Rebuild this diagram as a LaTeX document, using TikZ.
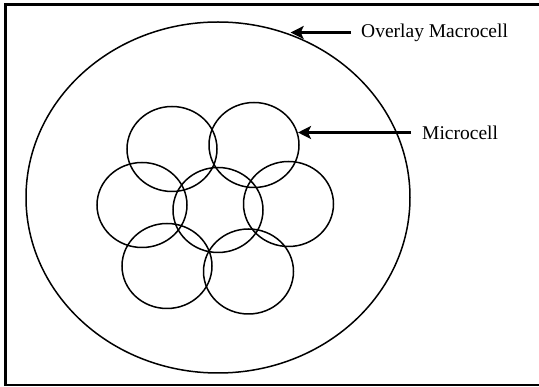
\documentclass[tikz,border=0pt]{standalone}
\usepackage{fontspec}
\setmainfont{Liberation Serif}
\usetikzlibrary{shapes.geometric,arrows.meta}
\begin{document}
\begin{tikzpicture}[x=1pt,y=-1pt,
  cell/.style={ellipse,draw,line width=1.5pt,inner sep=0pt,
    minimum width=90pt,minimum height=85pt},
  macro/.style={ellipse,draw,line width=1.5pt,inner sep=0pt,
    minimum width=384pt,minimum height=351pt},
  label/.style={inner sep=0pt,anchor=west,font=\fontsize{19.5}{22}\selectfont},
  pointer/.style={line width=3.4pt,
    -{Stealth[length=13pt,width=13pt,inset=3pt]}},
  frame/.style={line width=2.4pt}]
\useasboundingbox (0,0) rectangle (539,387);

% outer frame (runs off the right edge)
\draw[frame] (539,4.5) -- (5.5,4.5) -- (5.5,385) -- (539,385);

% overlay macrocell
\node[macro] (mac) at (218,197.5) {};

% seven microcells
\node[cell] (tl) at (172,149) {};
\node[cell] (tr) at (254,145) {};
\node[cell] (lf) at (142,205) {};
\node[cell] (ct) at (218,210) {};
\node[cell] (rt) at (288.5,204) {};
\node[cell] (bl) at (167,266) {};
\node[cell] (br) at (248.5,271.5) {};

% labels and pointers
\node[label] (ovl) at (361,32.5) {Overlay Macrocell};
\node[label] (mic) at (422,132.5) {Microcell};
\draw[pointer] ([xshift=-10pt]ovl.west) -- (ovl.west -| mac.66.8);
\draw[pointer] ([xshift=-11pt]mic.west) -- (mic.west -| tr.15.3);
\end{tikzpicture}
\end{document}
